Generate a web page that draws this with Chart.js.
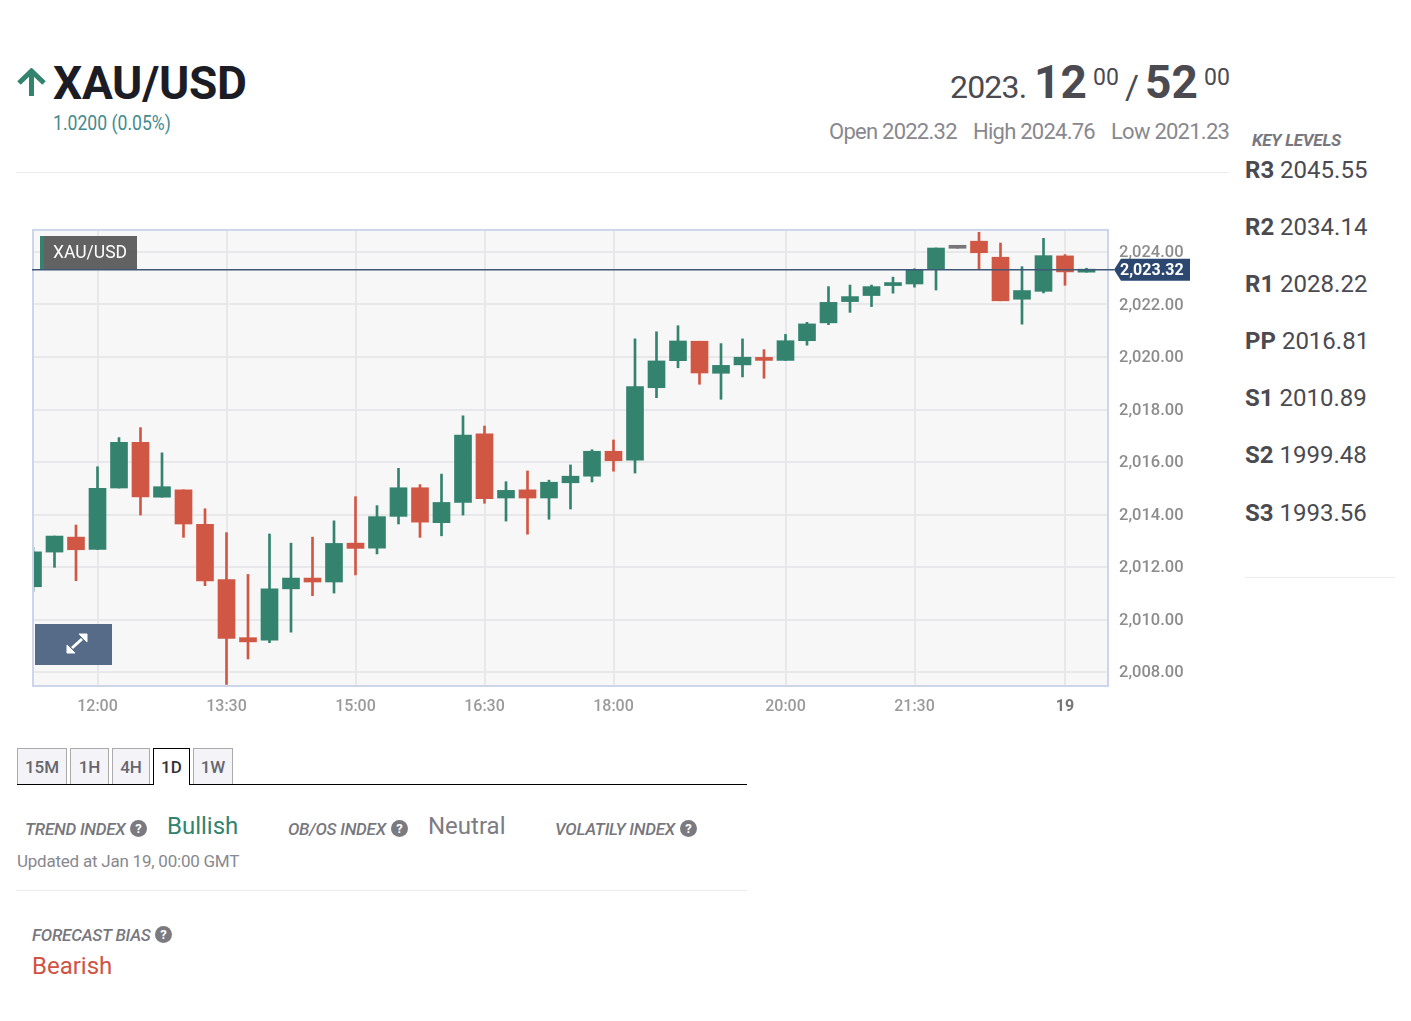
<!DOCTYPE html>
<html>
<head>
<meta charset="utf-8">
<title>XAU/USD</title>
<script src="https://cdn.jsdelivr.net/npm/chart.js@4"></script>
<style>
    html, body { margin: 0; padding: 0; background: #fff; }
    body { width: 1411px; height: 1021px; position: relative; overflow: hidden; font-family: Roboto, sans-serif; }
    .t { position: absolute; white-space: nowrap; line-height: 30px; height: 30px; }
    .rule { position: absolute; height: 1px; background: #ececf0; }
    .lab { font-style: italic; font-weight: 500; font-size: 17px; color: #77777d; letter-spacing: -0.25px; }
    .help { position: absolute; width: 17px; height: 17px; border-radius: 50%; background: #7a7a80; color: #fff; font: bold 13px/17px Roboto, sans-serif; text-align: center; }
    .lvl { font-size: 24px; color: #4a4a50; left: 1245px; }
    .lvl b { font-weight: 700; }
    .tab { position: absolute; top: 748px; height: 36px; line-height: 37px; box-sizing: border-box; border: 1px solid #aaa; border-bottom: 0; background: #f3f3f8; color: #66666c; font-size: 17px; font-weight: 500; text-align: center; }
    .tab.on { background: #fff; border: 1px solid #000; border-bottom: 0; height: 37px; color: #333; z-index: 2; }
    #chart { position: absolute; left: 0; top: 209px; }
    #pairTag { position: absolute; left: 40px; top: 236px; width: 97px; height: 33px; background: rgba(85,85,85,0.92); color: #fff; font-size: 17.5px; line-height: 32px; box-sizing: border-box; padding-left: 9px; border-left: 4px solid #33836f; }
    #expand { position: absolute; left: 35px; top: 624px; width: 77px; height: 41px; background: #566b88; }
</style>
</head>
<body>

<svg style="position:absolute;left:17px;top:68px" width="29" height="30" viewBox="0 0 29 30">
    <path d="M14.5 28 V3 M2 15 L14.5 3 L27 15" fill="none" stroke="#33836f" stroke-width="5"/>
</svg>
<div class="t" style="left:53px;top:68px;font-size:46px;font-weight:700;color:#1c1c24;letter-spacing:-0.3px">XAU/USD</div>
<div class="t" style="left:53px;top:108px;font-size:20px;color:#438b8f;transform:scaleX(0.88);transform-origin:left">1.0200 (0.05%)</div>

<div class="t" style="left:950px;top:72px;font-size:32px;color:#4a4a50;letter-spacing:-0.8px">2023.</div>
<div class="t" style="left:1034px;top:67px;font-size:46px;font-weight:700;color:#4a4a50">12</div>
<div class="t" style="left:1093px;top:63px;font-size:23px;color:#4a4a50">00</div>
<div class="t" style="left:1125px;top:72px;font-size:34px;color:#4a4a50">/</div>
<div class="t" style="left:1145px;top:67px;font-size:46px;font-weight:700;color:#4a4a50">52</div>
<div class="t" style="left:1204px;top:63px;font-size:23px;color:#4a4a50">00</div>

<div class="t" style="left:829px;top:117px;font-size:22px;color:#88888e;letter-spacing:-0.75px">Open 2022.32</div>
<div class="t" style="left:973px;top:117px;font-size:22px;color:#88888e;letter-spacing:-0.75px">High 2024.76</div>
<div class="t" style="left:1111px;top:117px;font-size:22px;color:#88888e;letter-spacing:-0.75px">Low 2021.23</div>
<div class="rule" style="left:16px;top:172px;width:1213px"></div>

<div class="t lab" style="left:1252px;top:125px;font-weight:700">KEY LEVELS</div>
<div class="t lvl" style="top:155px"><b>R3</b> 2045.55</div>
<div class="t lvl" style="top:212px"><b>R2</b> 2034.14</div>
<div class="t lvl" style="top:269px"><b>R1</b> 2028.22</div>
<div class="t lvl" style="top:326px"><b>PP</b> 2016.81</div>
<div class="t lvl" style="top:383px"><b>S1</b> 2010.89</div>
<div class="t lvl" style="top:440px"><b>S2</b> 1999.48</div>
<div class="t lvl" style="top:498px"><b>S3</b> 1993.56</div>
<div class="rule" style="left:1245px;top:577px;width:150px"></div>

<canvas id="chart" width="1230" height="511"></canvas>
<div id="pairTag">XAU/USD</div>
<div id="expand">
    <svg width="77" height="41" viewBox="0 0 77 41">
        <path d="M37 24 L47 15" stroke="#fff" stroke-width="3"/>
        <path d="M32 21 V29 H40 Z M52 10 H44 L52 18 Z" fill="#fff" stroke="#fff"/>
    </svg>
</div>

<div class="tab" style="left:17px;width:50px">15M</div>
<div class="tab" style="left:70px;width:39px">1H</div>
<div class="tab" style="left:112px;width:38px">4H</div>
<div class="tab on" style="left:153px;width:37px">1D</div>
<div class="tab" style="left:193px;width:40px">1W</div>
<div style="position:absolute;left:17px;top:784px;width:730px;height:1px;background:#000"></div>

<div class="t lab" style="left:25px;top:814px">TREND INDEX</div><div class="help" style="left:130px;top:820px">?</div>
<div class="t" style="left:167px;top:811px;font-size:24px;color:#33836f">Bullish</div>
<div class="t lab" style="left:288px;top:814px">OB/OS INDEX</div><div class="help" style="left:391px;top:820px">?</div>
<div class="t" style="left:428px;top:811px;font-size:24px;color:#7c7c82">Neutral</div>
<div class="t lab" style="left:555px;top:814px">VOLATILY INDEX</div><div class="help" style="left:680px;top:820px">?</div>
<div class="t" style="left:17px;top:846px;font-size:17px;color:#88888e;letter-spacing:-0.23px">Updated at Jan 19, 00:00 GMT</div>
<div class="rule" style="left:16px;top:890px;width:731px"></div>
<div class="t lab" style="left:32px;top:920px">FORECAST BIAS</div><div class="help" style="left:155px;top:926px">?</div>
<div class="t" style="left:32px;top:951px;font-size:24px;color:#cf5343">Bearish</div>

<script>
document.addEventListener('DOMContentLoaded', function() {

    // 15 minute candles, one spare slot at the right edge
    const categories = [
        '11:15', '11:30', '11:45', '12:00', '12:15', '12:30', '12:45', '13:00', '13:15', '13:30',
        '13:45', '14:00', '14:15', '14:30', '14:45', '15:00', '15:15', '15:30', '15:45', '16:00',
        '16:15', '16:30', '16:45', '17:00', '17:15', '17:30', '17:45', '18:00', '18:15', '18:30',
        '18:45', '19:00', '19:15', '19:30', '19:45', '20:00', '20:15', '20:30', '20:45', '21:00',
        '21:15', '21:30', '21:45', '22:00', '22:15', '22:30', '22:45', '23:00', '00:00', '00:15', '00:30'
    ];
    const opens = [
        2011.25, 2012.57, 2013.14, 2012.67, 2015.01, 2016.75, 2014.66, 2014.94, 2013.63, 2011.52,
        2009.31, 2009.22, 2011.17, 2011.58, 2011.43, 2012.91, 2012.72, 2013.93, 2015.02, 2013.69,
        2014.46, 2017.07, 2014.63, 2014.94, 2014.63, 2015.21, 2015.46, 2016.41, 2016.07, 2018.83,
        2019.86, 2020.60, 2019.38, 2019.70, 2019.97, 2019.87, 2020.62, 2021.30, 2022.11, 2022.34,
        2022.72, 2022.78, 2023.33, 2024.14, 2024.41, 2023.80, 2022.20, 2022.50, 2023.85, 2023.23
    ];
    const highs = [
        2012.75, 2013.18, 2013.60, 2015.82, 2016.93, 2017.31, 2016.35, 2014.94, 2014.22, 2013.31,
        2011.72, 2013.26, 2012.91, 2013.14, 2013.76, 2014.68, 2014.34, 2015.76, 2015.14, 2015.54,
        2017.76, 2017.37, 2015.25, 2015.66, 2015.31, 2015.89, 2016.47, 2016.84, 2020.69, 2020.96,
        2021.19, 2020.60, 2020.51, 2020.69, 2020.28, 2020.86, 2021.32, 2022.68, 2022.74, 2022.74,
        2023.04, 2023.36, 2024.15, 2024.14, 2024.75, 2024.34, 2023.44, 2024.52, 2023.90, 2023.38
    ];
    const lows = [
        2011.06, 2011.99, 2011.48, 2012.67, 2015.01, 2013.98, 2014.66, 2013.13, 2011.29, 2007.53,
        2008.50, 2009.12, 2009.52, 2010.91, 2011.01, 2011.70, 2012.50, 2013.64, 2013.13, 2013.19,
        2013.98, 2014.43, 2013.75, 2013.25, 2013.82, 2014.21, 2015.24, 2015.65, 2015.58, 2018.45,
        2019.59, 2018.96, 2018.39, 2019.24, 2019.19, 2019.87, 2020.45, 2021.23, 2021.70, 2021.92,
        2022.43, 2022.66, 2022.55, 2024.14, 2023.34, 2022.14, 2021.25, 2022.44, 2022.73, 2023.23
    ];
    const closes = [
        2012.58, 2013.18, 2012.66, 2015.00, 2016.75, 2014.67, 2015.06, 2013.64, 2011.47, 2009.28,
        2009.15, 2011.17, 2011.58, 2011.43, 2012.90, 2012.71, 2013.92, 2015.02, 2013.71, 2014.46,
        2017.03, 2014.60, 2014.92, 2014.63, 2015.23, 2015.46, 2016.41, 2016.05, 2018.87, 2019.85,
        2020.61, 2019.39, 2019.68, 2019.99, 2019.87, 2020.62, 2021.26, 2022.08, 2022.30, 2022.68,
        2022.81, 2023.30, 2024.15, 2024.14, 2023.97, 2022.14, 2022.53, 2023.86, 2023.24, 2023.29
    ];
    const tickLabels = { '12:00': '12:00', '13:30': '13:30', '15:00': '15:00', '16:30': '16:30', '18:00': '18:00', '20:00': '20:00', '21:30': '21:30', '00:00': '19' };
    const lastPrice = 2023.32;

    const green = '#33836f';
    const red = '#d15745';
    const gray = '#77777a';

    function candleColor(i) {
        if (closes[i] > opens[i]) return green;
        if (closes[i] < opens[i]) return red;
        return gray;
    }

    const colors = opens.map(function(o, i) { return candleColor(i); });

    // Plot background, frame and the last price line with its flag
    const plotExtras = {
        id: 'plotExtras',
        beforeDraw: function(chart) {
            const a = chart.chartArea;
            chart.ctx.fillStyle = '#f7f7f7';
            chart.ctx.fillRect(a.left, a.top, a.width, a.height);
        },
        afterDraw: function(chart) {
            const a = chart.chartArea;
            const ctx = chart.ctx;
            const y = chart.scales.y.getPixelForValue(lastPrice);
            ctx.save();
            ctx.strokeStyle = '#ccd5ea';
            ctx.lineWidth = 2;
            ctx.strokeRect(a.left, a.top, a.width, a.height);
            ctx.strokeStyle = '#3f5878';
            ctx.lineWidth = 1.5;
            ctx.beginPath();
            ctx.moveTo(a.left - 1, y);
            ctx.lineTo(a.right + 6, y);
            ctx.stroke();
            ctx.fillStyle = '#2c4870';
            ctx.beginPath();
            ctx.moveTo(a.right + 6, y);
            ctx.lineTo(a.right + 13, y - 11);
            ctx.lineTo(a.right + 82, y - 11);
            ctx.lineTo(a.right + 82, y + 11);
            ctx.lineTo(a.right + 13, y + 11);
            ctx.closePath();
            ctx.fill();
            ctx.fillStyle = '#fff';
            ctx.font = 'bold 16px Roboto';
            ctx.textBaseline = 'middle';
            ctx.textAlign = 'left';
            ctx.fillText('2,023.32', a.right + 12, y + 1.5);
            ctx.restore();
        }
    };

    new Chart(document.getElementById('chart'), {
        type: 'bar',
        plugins: [plotExtras],
        data: {
            labels: categories,
            datasets: [{
                // bodies
                data: opens.map(function(o, i) { return [o, closes[i]]; }),
                backgroundColor: colors,
                barThickness: 17,
                minBarLength: 3,
                grouped: false,
                order: 0
            }, {
                // wicks
                data: lows.map(function(l, i) { return [l, highs[i]]; }),
                backgroundColor: colors,
                barThickness: 2,
                grouped: false,
                order: 1
            }]
        },
        options: {
            responsive: false,
            animation: false,
            layout: { padding: { left: 33, top: 0, right: 0, bottom: 0 } },
            plugins: { legend: { display: false }, tooltip: { enabled: false } },
            scales: {
                x: {
                    offset: false,
                    afterFit: function(scale) { scale.height = 34; },
                    border: { display: false },
                    grid: {
                        offset: false,
                        drawTicks: false,
                        lineWidth: 2,
                        color: function(c) {
                            return tickLabels[categories[c.index]] ? '#e8e8ea' : 'transparent';
                        }
                    },
                    ticks: {
                        autoSkip: false,
                        maxRotation: 0,
                        padding: 11,
                        font: function(c) {
                            const bold = tickLabels[categories[c.index]] === '19';
                            return { family: 'Roboto', size: 16, weight: bold ? '700' : '500' };
                        },
                        color: function(c) {
                            return tickLabels[categories[c.index]] === '19' ? '#77777a' : '#9a9a9a';
                        },
                        callback: function(v, i) {
                            return tickLabels[categories[i]] || '';
                        }
                    }
                },
                y: {
                    position: 'right',
                    min: 2007.47,
                    max: 2024.84,
                    afterFit: function(scale) { scale.width = 122; },
                    border: { display: false },
                    grid: { drawTicks: false, lineWidth: 2, color: '#e8e8ea' },
                    ticks: {
                        stepSize: 2,
                        includeBounds: false,
                        padding: 11,
                        labelOffset: 1,
                        font: { family: 'Roboto', size: 16.5, weight: '500' },
                        color: '#8c8c8c',
                        callback: function(v) {
                            return v.toLocaleString('en-US', { minimumFractionDigits: 2, maximumFractionDigits: 2 });
                        }
                    }
                }
            }
        }
    });
});
</script>
</body>
</html>
